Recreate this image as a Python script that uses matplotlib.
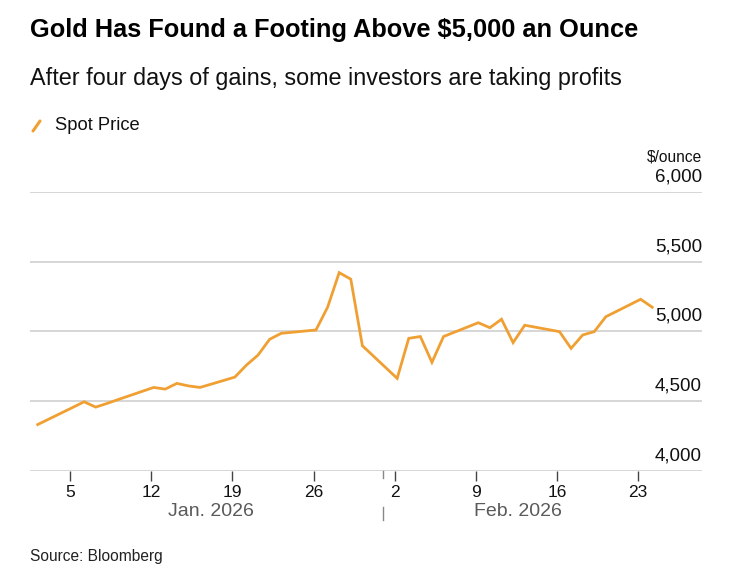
import matplotlib.pyplot as plt
import matplotlib.dates as mdates
from matplotlib.lines import Line2D
import numpy as np
import pandas as pd

plt.rcParams['font.family'] = ['Liberation Sans', 'DejaVu Sans']

dates = pd.to_datetime([
    "2026-01-02", "2026-01-05", "2026-01-06", "2026-01-07", "2026-01-08", "2026-01-09",
    "2026-01-12", "2026-01-13", "2026-01-14", "2026-01-15", "2026-01-16",
    "2026-01-19", "2026-01-20", "2026-01-21", "2026-01-22", "2026-01-23",
    "2026-01-26", "2026-01-27", "2026-01-28", "2026-01-29", "2026-01-30",
    "2026-02-02", "2026-02-03", "2026-02-04", "2026-02-05", "2026-02-06",
    "2026-02-09", "2026-02-10", "2026-02-11", "2026-02-12", "2026-02-13",
    "2026-02-16", "2026-02-17", "2026-02-18", "2026-02-19", "2026-02-20",
    "2026-02-23", "2026-02-24",
])
spot_price = [
    4333, 4455, 4496, 4458, 4485, 4514,
    4599, 4587, 4628, 4610, 4599,
    4673, 4759, 4831, 4944, 4987,
    5011, 5174, 5422, 5375, 4898,
    4664, 4951, 4964, 4779, 4964,
    5063, 5027, 5088, 4920, 5045,
    4999, 4879, 4975, 4999, 5106,
    5231, 5174,
]
y_ticks = [4000, 4500, 5000, 5500, 6000]
x_tick_dates = pd.to_datetime(["2026-01-05", "2026-01-12", "2026-01-19", "2026-01-26",
                               "2026-02-02", "2026-02-09", "2026-02-16", "2026-02-23"])
months = ["Jan. 2026", "Feb. 2026"]
month_split = pd.Timestamp("2026-02-01")

W, H = 733, 586
fig = plt.figure(figsize=(W / 100, H / 100), dpi=100)
fig.patch.set_facecolor("white")

def fx(px):
    return px / W

def fy(py):
    return 1 - py / H

ax = fig.add_axes([fx(30), fy(471), fx(702) - fx(30), fy(192) - fy(471)])
orange = "#F0A033"
ax.plot(dates, spot_price, color=orange, lw=2.0, solid_joinstyle="miter", zorder=3)

# data points sit a few hours right of the tick marks
shift = pd.Timedelta(hours=5)
ax.set_xlim(pd.Timestamp("2026-01-01 08:00"), pd.Timestamp("2026-02-28 07:00"))
ax.set_ylim(4000, 6000)

px_y = 2000 / 279  # data units per pixel
for s in ax.spines.values():
    s.set_visible(False)
for v in y_ticks:
    ax.axhline(v, color="#cccccc", lw=1.1, zorder=1)
    ax.text(1.0, v + 15 * px_y, f"{v:,}", transform=ax.get_yaxis_transform(), ha="right",
            va="center", fontsize=13.5, color="#111111")
ax.text(1.0, 6000 + 35 * px_y, "$/ounce", transform=ax.get_yaxis_transform(), ha="right",
        va="center", fontsize=11.2, color="#111111", clip_on=False)
ax.set_yticks([])

tick_pos = [d - shift for d in x_tick_dates]
ax.set_xticks(tick_pos)
ax.set_xticklabels([str(d.day) for d in x_tick_dates])
ax.tick_params(axis="x", length=7, width=1, color="#444444", pad=3, labelsize=12.5,
               labelcolor="#111111")

# month separator
sep = mdates.date2num(month_split - shift)
trans = ax.get_xaxis_transform()
ax.add_line(Line2D([sep, sep], [0, -7 / 279], transform=trans, color="#888888",
                   lw=1, clip_on=False))
ax.add_line(Line2D([sep, sep], [-36 / 279, -49 / 279], transform=trans, color="#888888",
                   lw=1, clip_on=False))

# month labels centred between the data ends and the separator
spans = [(mdates.date2num(dates[0]), sep), (sep, mdates.date2num(dates[-1]))]
for name, (a, b) in zip(months, spans):
    ax.text((a + b) / 2, -40 / 279, name, transform=trans, ha="center", va="center",
            fontsize=14, color="#5a5a5a")

fig.text(fx(30), fy(30), "Gold Has Found a Footing Above $5,000 an Ounce",
         fontsize=18.3, fontweight="bold", va="center", ha="left", color="#000000")
fig.text(fx(30), fy(78), "After four days of gains, some investors are taking profits",
         fontsize=16.8, va="center", ha="left", color="#111111")
fig.add_artist(Line2D([fx(33), fx(40)], [fy(131), fy(121)], color=orange, lw=2.2,
                      solid_capstyle="round"))
fig.text(fx(55), fy(126), "Spot Price", fontsize=13.2, va="center", ha="left", color="#111111")
fig.text(fx(30), fy(557), "Source: Bloomberg", fontsize=11.2, va="center", ha="left",
         color="#222222")

fig.savefig("out.png", dpi=100)
